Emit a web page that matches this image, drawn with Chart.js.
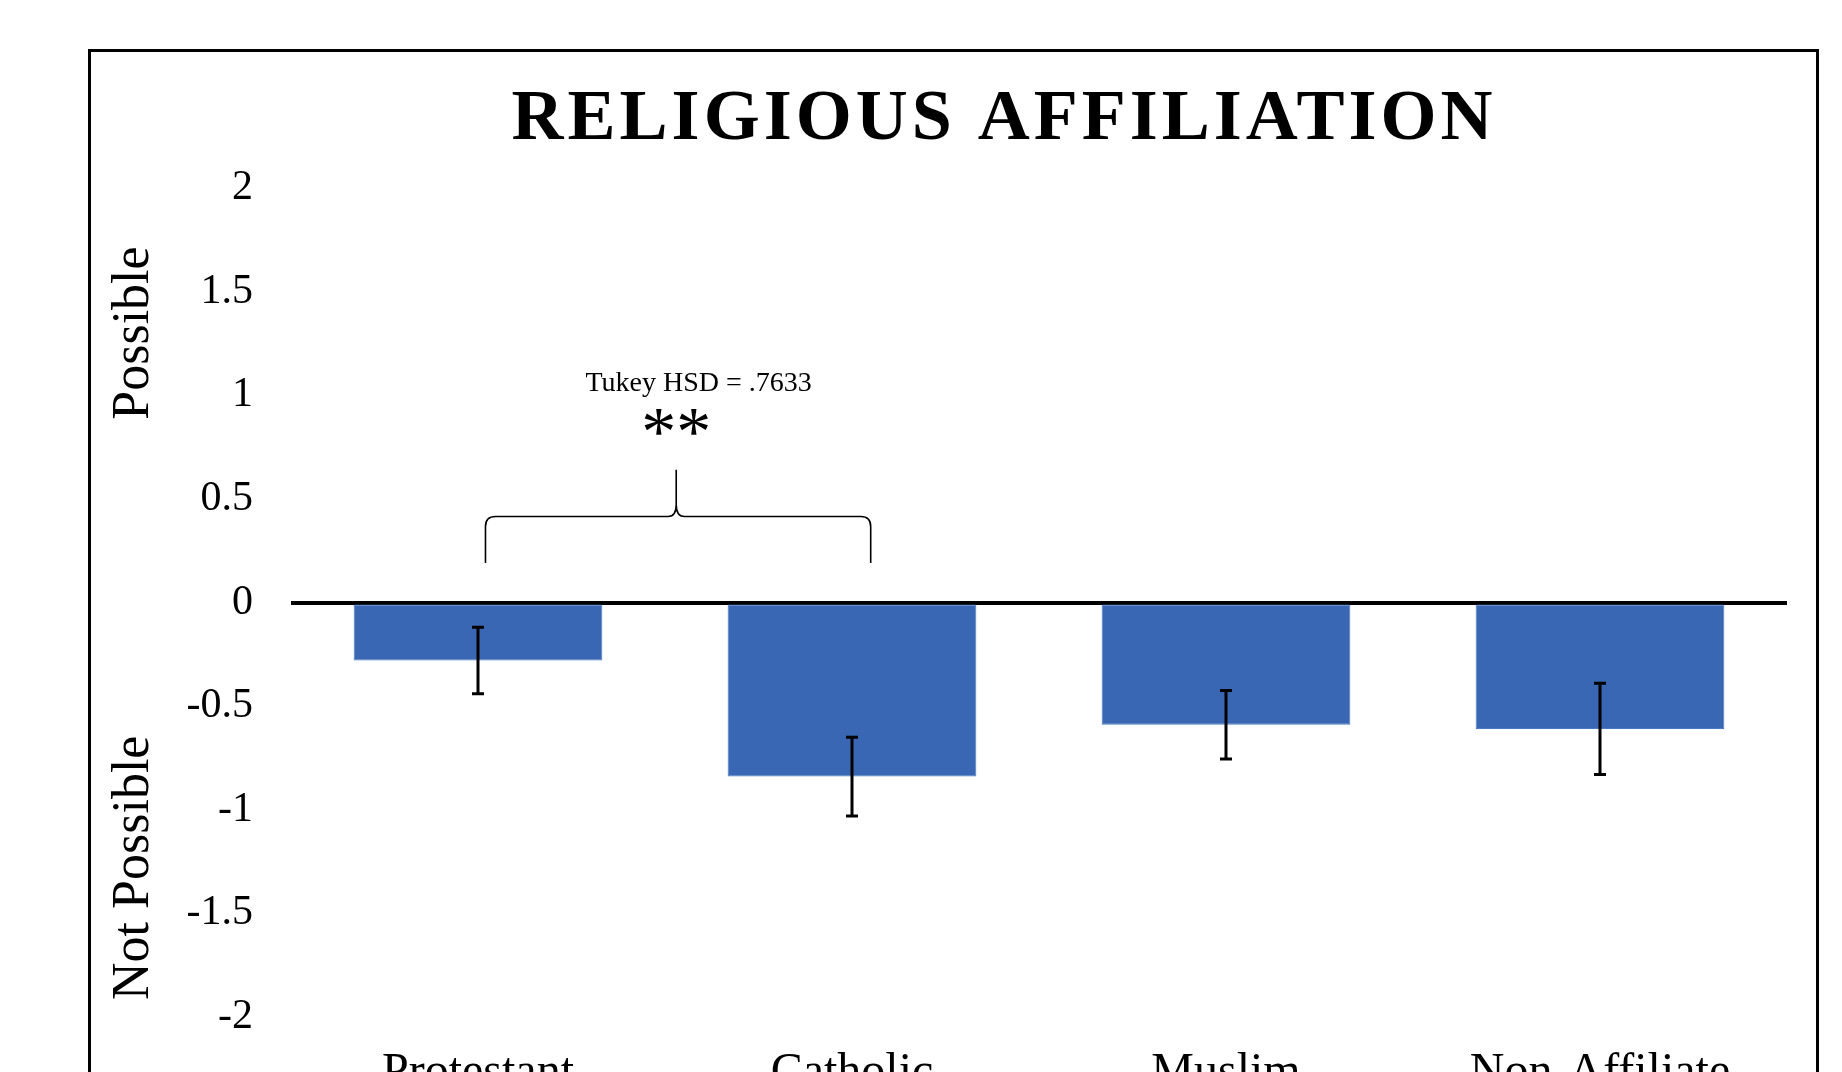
<!DOCTYPE html>
<html>
<head>
<meta charset="utf-8">
<title>Religious Affiliation</title>
<script src="https://cdn.jsdelivr.net/npm/chart.js@4.4.1/dist/chart.umd.min.js"></script>
<style>
   html, body { margin: 0; padding: 0; background: #fff; overflow: hidden; }
   #wrap { position: relative; width: 1842px; height: 1117px; }
</style>
</head>
<body>
<div id="wrap"><canvas id="relChart"></canvas></div>
<script>
// Data
const categories = ["Protestant", "Catholic", "Muslim", "Non-Affiliate"];
const means      = [-0.28, -0.84, -0.59, -0.61];
const errors     = [0.16, 0.19, 0.165, 0.22];
const yTicks     = [2, 1.5, 1, 0.5, 0, -0.5, -1, -1.5, -2];

const serif    = "'Liberation Serif', 'Times New Roman', serif";
const barColor = "#3A67B3";

// Border, title, error bars, side labels and the Tukey brace
const extras = {
   id: "extras",
   beforeDraw(chart) {
      const ctx = chart.ctx;
      ctx.save();
      ctx.strokeStyle = "#000";
      ctx.lineWidth = 3;
      ctx.strokeRect(89.5, 50.5, 1728, 1200);
      ctx.restore();
   },
   afterDatasetsDraw(chart) {
      const ctx = chart.ctx;
      const y = chart.scales.y;
      const bars = chart.getDatasetMeta(0).data;
      ctx.save();
      ctx.strokeStyle = "#000";
      ctx.lineWidth = 3;
      bars.forEach((bar, i) => {
         const top = y.getPixelForValue(means[i] + errors[i]);
         const bot = y.getPixelForValue(means[i] - errors[i]);
         ctx.beginPath();
         ctx.moveTo(bar.x, top);
         ctx.lineTo(bar.x, bot);
         ctx.moveTo(bar.x - 6, top);
         ctx.lineTo(bar.x + 6, top);
         ctx.moveTo(bar.x - 6, bot);
         ctx.lineTo(bar.x + 6, bot);
         ctx.stroke();
      });
      ctx.restore();
   },
   afterDraw(chart) {
      const ctx = chart.ctx;
      const x = chart.scales.x;
      const y = chart.scales.y;
      const step = x.getPixelForValue(1) - x.getPixelForValue(0);
      const xAt = (idx) => x.getPixelForValue(0) + idx * step;

      ctx.save();
      ctx.fillStyle = "#000";

      // title
      ctx.font = `bold 72px ${serif}`;
      ctx.letterSpacing = "4px";
      ctx.textAlign = "center";
      ctx.textBaseline = "alphabetic";
      ctx.fillText("RELIGIOUS AFFILIATION", 1004, 139);
      ctx.letterSpacing = "0px";

      // side labels
      ctx.font = `52px ${serif}`;
      [["Possible", 1.3], ["Not Possible", -1.28]].forEach(([txt, v]) => {
         ctx.save();
         ctx.translate(148, y.getPixelForValue(v));
         ctx.rotate(-Math.PI / 2);
         ctx.fillText(txt, 0, 0);
         ctx.restore();
      });

      // Tukey annotation
      ctx.font = `28px ${serif}`;
      ctx.fillText("Tukey HSD = .7633", xAt(0.59), y.getPixelForValue(1.02));
      ctx.font = `70px ${serif}`;
      ctx.fillText("**", xAt(0.53), y.getPixelForValue(0.71));

      // brace
      const L = xAt(0.02), R = xAt(1.05), T = xAt(0.53);
      const yb = y.getPixelForValue(0.19);
      const yh = y.getPixelForValue(0.415);
      const yt = y.getPixelForValue(0.64);
      const r = 10;
      ctx.strokeStyle = "#000";
      ctx.lineWidth = 1.6;
      ctx.beginPath();
      ctx.moveTo(L, yb);
      ctx.lineTo(L, yh + r);
      ctx.quadraticCurveTo(L, yh, L + r, yh);
      ctx.lineTo(T - 8, yh);
      ctx.quadraticCurveTo(T, yh, T, yh - 12);
      ctx.lineTo(T, yt);
      ctx.moveTo(T, yh - 12);
      ctx.quadraticCurveTo(T, yh, T + 8, yh);
      ctx.lineTo(R - r, yh);
      ctx.quadraticCurveTo(R, yh, R, yh + r);
      ctx.lineTo(R, yb);
      ctx.stroke();
      ctx.restore();
   }
};

new Chart(document.getElementById("relChart"), {
   type: "bar",
   data: {
      labels: categories,
      datasets: [{
         data: means,
         backgroundColor: barColor,
         borderColor: "#4A78C2",
         borderWidth: 1,
         borderSkipped: false,
         categoryPercentage: 1,
         barPercentage: 0.665
      }]
   },
   options: {
      responsive: true,
      maintainAspectRatio: false,
      animation: false,
      layout: { padding: { top: 188, right: 55, bottom: 0, left: 0 } },
      plugins: {
         legend: { display: false },
         tooltip: { enabled: false },
         title: { display: false }
      },
      scales: {
         x: {
            grid: { display: false },
            border: { display: false },
            ticks: {
               color: "#000",
               font: { family: serif, size: 48 },
               padding: 20,
               maxRotation: 0
            },
            afterFit(scale) { scale.height = 100; }
         },
         y: {
            min: -2,
            max: 2,
            z: 1,
            afterBuildTicks(scale) { scale.ticks = yTicks.map(v => ({ value: v })); },
            afterFit(scale) { scale.width = 291; },
            grid: {
               drawTicks: false,
               color: c => (c.tick && c.tick.value === 0 ? "#000" : "rgba(0,0,0,0)"),
               lineWidth: 4
            },
            border: { display: false },
            ticks: {
               color: "#000",
               font: { family: serif, size: 42 },
               padding: 38,
               callback: v => String(v)
            }
         }
      }
   },
   plugins: [extras]
});
</script>
</body>
</html>
